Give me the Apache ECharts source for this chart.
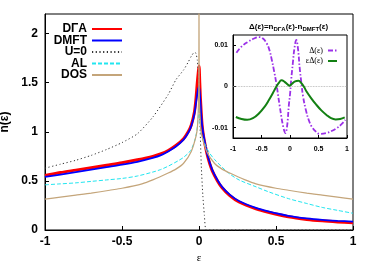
<!DOCTYPE html>
<html><head><meta charset="utf-8">
<script src="https://cdn.jsdelivr.net/npm/echarts@6/dist/echarts.min.js"></script>
<style>html,body{margin:0;padding:0;background:#fff}#c{width:374px;height:262px}</style>
</head><body><div id="c"></div>
<script>
// ---- data ----
const names = ['DΓA', 'DMFT', 'U=0', 'AL', 'DOS'];
const epsRB = [-1,-0.9,-0.8,-0.7,-0.6,-0.5,-0.4,-0.3,-0.25,-0.2,-0.15,-0.1,-0.07,-0.05,-0.03,-0.02,-0.01,-0.005,0,0.005,0.01,0.02,0.03,0.05,0.065,0.087,0.12,0.15,0.2,0.26,0.37,0.45,0.58,0.7,0.8,0.9,1];
const nDGA  = [0.555,0.585,0.61,0.635,0.66,0.685,0.715,0.75,0.775,0.81,0.86,0.93,1.0,1.07,1.2,1.33,1.52,1.6,1.67,1.5,1.32,1.07,0.95,0.79,0.7,0.6,0.5,0.43,0.35,0.285,0.215,0.18,0.135,0.108,0.093,0.082,0.073];
const nDMFT = [0.54,0.565,0.59,0.615,0.64,0.665,0.695,0.735,0.76,0.80,0.85,0.92,0.99,1.06,1.18,1.29,1.4,1.44,1.46,1.4,1.28,1.07,0.96,0.8,0.71,0.61,0.51,0.44,0.36,0.295,0.225,0.19,0.145,0.118,0.103,0.093,0.085];
const epsU0 = [-1,-0.9,-0.8,-0.7,-0.6,-0.5,-0.4,-0.3,-0.2,-0.15,-0.1,-0.07,-0.05,-0.03,-0.02,-0.011,0,0.006,0.015,0.025,0.035,0.047,0.1,0.5,1];
const nU0   = [0.63,0.67,0.71,0.76,0.82,0.89,0.98,1.15,1.38,1.53,1.63,1.71,1.77,1.81,1.8,1.73,1.5,1.1,0.65,0.35,0.15,0,0,0,0];
const epsAL = [-1,-0.9,-0.8,-0.7,-0.6,-0.5,-0.4,-0.3,-0.25,-0.2,-0.13,-0.1,-0.054,-0.03,-0.015,-0.005,0,0.005,0.015,0.043,0.07,0.1,0.15,0.2,0.26,0.37,0.45,0.58,0.7,0.8,0.9,1];
const nAL   = [0.46,0.47,0.48,0.495,0.51,0.525,0.55,0.59,0.615,0.65,0.71,0.74,0.81,0.9,1.0,1.15,1.25,1.12,0.98,0.86,0.78,0.72,0.64,0.57,0.51,0.44,0.39,0.32,0.27,0.23,0.2,0.17];
const epsDOS = [-1,-0.9,-0.8,-0.7,-0.58,-0.5,-0.37,-0.3,-0.2,-0.15,-0.1,-0.05,-0.02,-0.01,-0.003,-0.001,0,0.001,0.003,0.01,0.02,0.05,0.1,0.15,0.2,0.3,0.37,0.5,0.58,0.7,0.8,0.9,1];
const nDOS   = [0.315,0.335,0.355,0.375,0.405,0.425,0.47,0.51,0.58,0.62,0.68,0.8,0.95,1.05,1.3,1.5,2.6,1.5,1.3,1.05,0.95,0.8,0.68,0.62,0.58,0.51,0.47,0.425,0.405,0.375,0.355,0.335,0.315];
const epsDelta = [-0.94,-0.85,-0.73,-0.64,-0.55,-0.48,-0.41,-0.36,-0.32,-0.28,-0.24,-0.18,-0.12,-0.08,-0.05,-0.02,0,0.02,0.05,0.08,0.11,0.14,0.17,0.2,0.23,0.28,0.33,0.38,0.45,0.52,0.64,0.73,0.82,0.9,0.97];
const delta    = [0.0082,0.0097,0.0109,0.0116,0.0120,0.0117,0.0105,0.0088,0.0065,0.0038,0.0008,-0.0048,-0.0097,-0.0113,-0.0095,-0.0045,-0.002,0.0015,0.0057,0.0095,0.0113,0.0092,0.0045,0.0008,-0.0025,-0.0058,-0.0082,-0.0097,-0.0109,-0.0115,-0.0113,-0.0108,-0.0101,-0.0092,-0.0081];
const epsEpsDelta = [-0.95,-0.85,-0.75,-0.65,-0.55,-0.44,-0.37,-0.3,-0.25,-0.2,-0.15,-0.1,-0.04,-0.01,0.03,0.08,0.15,0.2,0.25,0.29,0.37,0.46,0.55,0.64,0.72,0.8,0.88,0.96];
const epsDeltaVals = [-0.0074,-0.0079,-0.0081,-0.0077,-0.0066,-0.0048,-0.0033,-0.0016,-0.0003,0.0008,0.0015,0.0012,0.0005,0.0002,0.0006,0.0012,0.0014,0.0008,-0.0002,-0.0012,-0.0028,-0.0044,-0.0058,-0.0069,-0.0077,-0.0080,-0.0079,-0.0075];
const xTicks = [-1,-0.5,0,0.5,1];
const insetYTicks = [-0.01,0,0.01];

const zip = (a,b) => a.map((x,i)=>[x,b[i]]);
const SANS = 'Liberation Sans';
const chart = echarts.init(document.getElementById('c'), null, {renderer:'canvas'});

function mkLegend(name, top, right, font, fs, weight, w, h) {
  return {data:[name], top: top, right: right, orient:'vertical', align:'right', z: 20,
    itemWidth: w, itemHeight: h, itemTextGap: 7, padding: 0, selectedMode:false,
    itemStyle:{color:'rgba(0,0,0,0)', borderWidth:0, opacity:0},
    textStyle:{fontFamily: font, fontSize: fs, fontWeight: weight, color:'#000', lineHeight: fs}};
}

const option = {
  animation:false,
  backgroundColor:'#fff',
  title:{
    text:'{d|Δ(ε)=n}{s|DΓA}{d|(ε)-n}{s|DMFT}{d|(ε)}',
    left: 249, top: 22, padding:0, z: 20,
    textStyle:{rich:{
      d:{fontFamily:SANS, fontSize:8, color:'#000'},
      s:{fontFamily:SANS, fontSize:6, fontWeight:'bold', color:'#000', padding:[4,0,0,0]}
    }}
  },
  legend:[
    mkLegend(names[0], 23, 251, SANS, 12, 'bold', 30, 10),
    mkLegend(names[1], 34.5, 251, SANS, 12, 'bold', 30, 10),
    mkLegend(names[2], 46, 251, SANS, 12, 'bold', 30, 10),
    mkLegend(names[3], 57.5, 251, SANS, 12, 'bold', 30, 10),
    mkLegend(names[4], 69, 251, SANS, 12, 'bold', 30, 10),
    mkLegend('Δ(ε)', 46.5, 36, 'Liberation Serif', 8, 'normal', 9, 8),
    mkLegend('εΔ(ε)', 57, 36, 'Liberation Serif', 8, 'normal', 9, 8)
  ],
  grid:[
    {left:45, right:21, top:14, bottom:32, show:true, borderColor:'#000', borderWidth:1, backgroundColor:'transparent',
     containLabel:false, outerBoundsMode:'none'},
    {left:233, right:27, top:35, bottom:124, show:true, borderColor:'#000', borderWidth:1, backgroundColor:'#fff',
     containLabel:false, outerBoundsMode:'none'}
  ],
  xAxis:[
    {type:'value', gridIndex:0, min:-1, max:1, interval:0.5,
     axisLine:{show:true, onZero:false, lineStyle:{color:'#000', width:1}},
     axisTick:{show:true, inside:true, length:4, lineStyle:{color:'#000'}},
     splitLine:{show:false},
     axisLabel:{fontFamily:SANS, fontSize:12, fontWeight:'bold', color:'#000', margin:6,
       formatter: v => String(v)},
     name:'ε', nameLocation:'middle', nameGap:22,
     nameTextStyle:{fontFamily:'Liberation Serif', fontSize:11, color:'#000'}},
    {type:'value', gridIndex:1, min:-1, max:1, interval:0.5,
     axisLine:{show:true, onZero:false, lineStyle:{color:'#000', width:1}},
     axisTick:{show:true, inside:true, length:3, lineStyle:{color:'#000'}},
     splitLine:{show:false},
     axisLabel:{fontFamily:SANS, fontSize:7, fontWeight:'bold', color:'#000', margin:8,
       formatter: v => String(v)}}
  ],
  yAxis:[
    {type:'value', gridIndex:0, min:0, max:2.2, interval:0.5,
     axisLine:{show:true, onZero:false, lineStyle:{color:'#000', width:1}},
     axisTick:{show:true, inside:true, length:4, lineStyle:{color:'#000'}},
     splitLine:{show:false},
     axisLabel:{fontFamily:SANS, fontSize:12, fontWeight:'bold', color:'#000', margin:7, showMaxLabel:false},
     name:'n(ε)', nameLocation:'middle', nameGap:33,
     nameTextStyle:{fontFamily:SANS, fontSize:12, fontWeight:'bold', color:'#000'}},
    {type:'value', gridIndex:1, min:-0.0125, max:0.0125,
     axisLine:{show:true, onZero:false, lineStyle:{color:'#000', width:1}},
     axisTick:{show:true, inside:true, length:3, customValues: insetYTicks, lineStyle:{color:'#000'}},
     splitLine:{show:false},
     axisLabel:{fontFamily:SANS, fontSize:7, fontWeight:'bold', color:'#000', margin:5,
       customValues: insetYTicks, formatter: v => String(v)}}
  ],
  series:[
    {name:names[0], type:'line', xAxisIndex:0, yAxisIndex:0, data:zip(epsRB,nDGA), symbol:'none', smooth:0.3, clip:true,
     lineStyle:{color:'#ff0000', width:3}, itemStyle:{color:'#ff0000'}},
    {name:names[1], type:'line', xAxisIndex:0, yAxisIndex:0, data:zip(epsRB,nDMFT), symbol:'none', smooth:0.3, clip:true,
     lineStyle:{color:'#0000ff', width:1.8}, itemStyle:{color:'#0000ff'}},
    {name:names[2], type:'line', xAxisIndex:0, yAxisIndex:0, data:zip(epsU0,nU0), symbol:'none', smooth:0.2, clip:true,
     lineStyle:{color:'#333', width:1, type:[1.2,2.5]}, itemStyle:{color:'#333'}},
    {name:names[3], type:'line', xAxisIndex:0, yAxisIndex:0, data:zip(epsAL,nAL), symbol:'none', smooth:0.3, clip:true,
     lineStyle:{color:'#22e6f0', width:1, type:[4,2]}, itemStyle:{color:'#22e6f0'}},
    {name:names[4], type:'line', xAxisIndex:0, yAxisIndex:0, data:zip(epsDOS,nDOS), symbol:'none', smooth:0.2, clip:true,
     lineStyle:{color:'#c4a57a', width:1.2}, itemStyle:{color:'#c4a57a'}},
    {name:'Δ(ε)', type:'line', xAxisIndex:1, yAxisIndex:1, data:zip(epsDelta,delta), symbol:'none', smooth:0.4, z:8,
     lineStyle:{color:'#9b30e8', width:1.8, type:[5,2,1.5,2]}, itemStyle:{color:'#9b30e8'},
     markLine:{silent:true, symbol:['none','none'], label:{show:false}, animation:false,
       lineStyle:{color:'#aaa', type:'dotted', width:0.8}, data:[{yAxis:0}]}},
    {name:'εΔ(ε)', type:'line', xAxisIndex:1, yAxisIndex:1, data:zip(epsEpsDelta,epsDeltaVals), symbol:'none', smooth:0.4, z:8,
     lineStyle:{color:'#138013', width:2}, itemStyle:{color:'#138013'}}
  ]
};
chart.setOption(option);
</script></body></html>
